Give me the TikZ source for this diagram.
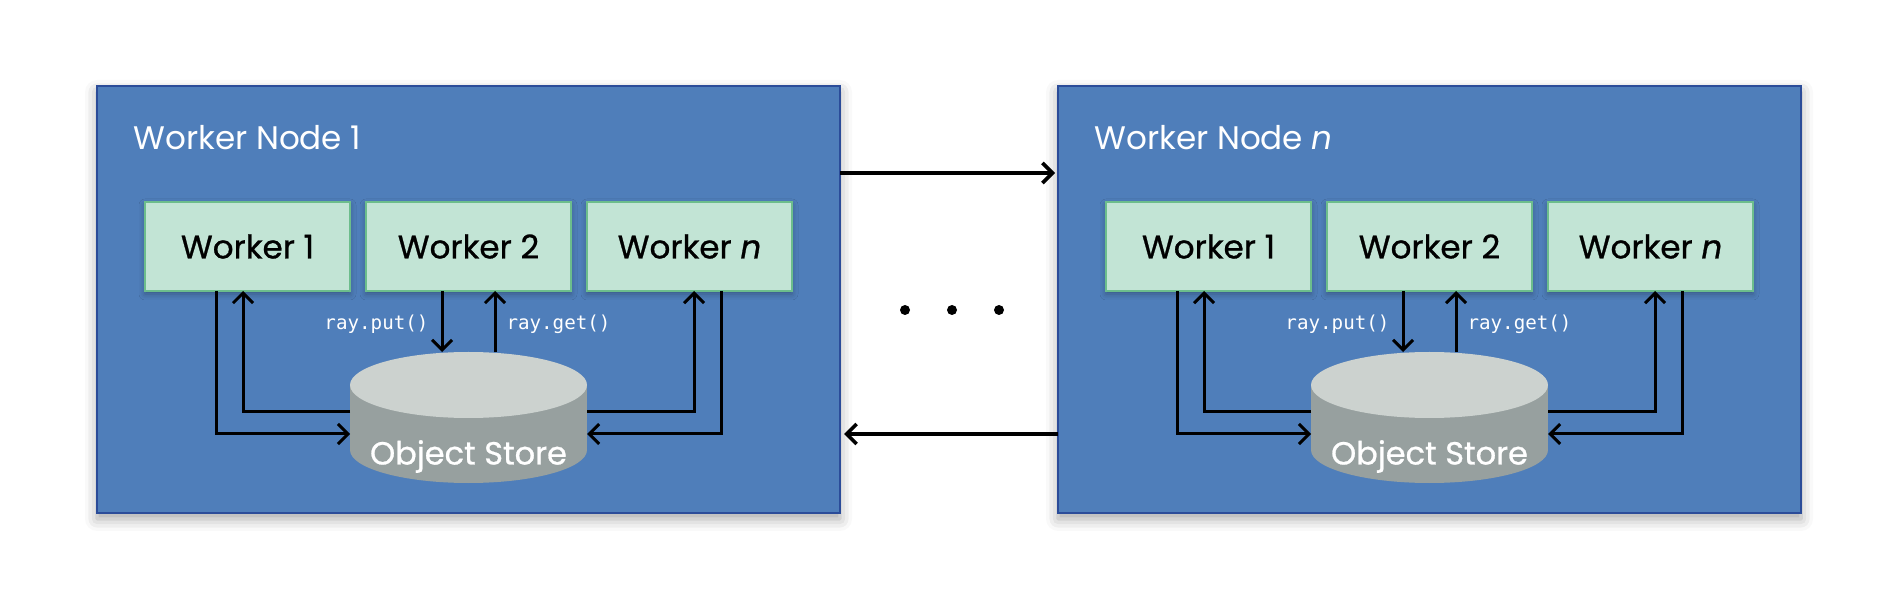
\documentclass[tikz,border=0pt]{standalone}
\usepackage{fontspec}
\setmainfont{Poppins}
\setmonofont{DejaVu Sans Mono}
\newfontfamily\poppinsmedium{Poppins}[FakeBold=0.8]
\usepackage{xcolor}
\usepackage{tikz}
\usetikzlibrary{positioning,arrows.meta,calc,shadows.blur}
\definecolor{RAYblue}{HTML}{4F7EBA}
\definecolor{RAYblueDark}{HTML}{2B4C99}
\definecolor{RAYmint}{HTML}{C2E4D5}
\definecolor{RAYmintLine}{HTML}{6CBD8C}
\definecolor{RAYstoreTop}{HTML}{CCD2CF}
\definecolor{RAYstoreSide}{HTML}{97A09F}
\tikzset{
  nodebox/.style={draw=RAYblueDark, fill=RAYblue, line width=1pt, minimum width=371.5pt, minimum height=213.5pt, outer sep=0pt, blur shadow={shadow xshift=0pt, shadow yshift=-3pt, shadow blur radius=6pt, shadow opacity=35}},
  titletext/.style={font=\fontsize{16.3}{19}\selectfont, text=white, inner sep=0pt},
  workerbox/.style={draw=RAYmintLine, fill=RAYmint, line width=1pt, minimum width=102.5pt, minimum height=44.5pt, inner sep=0pt, outer sep=0pt, font=\poppinsmedium\fontsize{16.3}{20}\selectfont, text=black, blur shadow={shadow xshift=0pt, shadow yshift=-1.5pt, shadow blur radius=3pt, shadow opacity=30}},
  storebox/.style={inner sep=0pt, outer sep=0pt, minimum width=118.5pt, text height=56.25pt, text depth=9.25pt, text=white, font=\poppinsmedium\fontsize{16}{20}\selectfont,
    path picture={
      \fill[RAYstoreSide] ([yshift=-16.5pt]path picture bounding box.north west) rectangle ([yshift=16.5pt]path picture bounding box.south east);
      \fill[RAYstoreSide] ([yshift=16.5pt]path picture bounding box.south) ellipse [x radius=59.25pt, y radius=16.5pt];
      \fill[RAYstoreTop] ([yshift=-16.5pt]path picture bounding box.north) ellipse [x radius=59.25pt, y radius=16.5pt];
    }},
  calltext/.style={font=\ttfamily\fontsize{9.6}{11}\selectfont, text=white, inner sep=2pt},
  flowarr/.style={-{Straight Barb[length=5pt,width=10pt]}, line width=1.5pt, draw=black},
  ellipsisdot/.style={circle, fill=black, inner sep=0pt, minimum size=5pt}
}

\begin{document}
\begin{tikzpicture}[x=1pt, y=1pt]
\useasboundingbox (0,0) rectangle (950,300);
\foreach \i/\x/\lbl in {A/48.5/1, B/529/{\emph{n}}} {
  \node[nodebox, anchor=south west] (box\i) at (\x,43.5) {};
  \node[titletext, anchor=west] (title\i) at ([xshift=18pt,yshift=-26pt]box\i.north west) {Worker Node \lbl};
  \node[workerbox, anchor=north west] (w1\i) at ([xshift=24pt,yshift=-58pt]box\i.north west) {Worker 1};
  \node[workerbox, right=8pt of w1\i] (w2\i) {Worker 2};
  \node[workerbox, right=8pt of w2\i] (wn\i) {Worker \emph{n}};
  \node[storebox, anchor=north] (store\i) at ([yshift=-30.5pt]w2\i.south) {Object Store};
  % worker 1 <-> store
  \draw[flowarr] ([xshift=-15.75pt]w1\i.south) |- ([yshift=24.5pt]store\i.south west);
  \draw[flowarr] ([yshift=35.5pt]store\i.south west) -| ([xshift=-2.25pt]w1\i.south);
  % worker 2 <-> store
  \draw[flowarr] ([xshift=-13.25pt]w2\i.south) -- node[calltext, pos=0.55, left=4pt] (put\i) {ray.put()} ([xshift=-13.25pt]store\i.north);
  \draw[flowarr] ([xshift=13.25pt]store\i.north) -- node[calltext, pos=0.45, right=3pt] (get\i) {ray.get()} ([xshift=13.25pt]w2\i.south);
  % worker n <-> store
  \draw[flowarr] ([xshift=15.75pt]wn\i.south) |- ([yshift=24.5pt]store\i.south east);
  \draw[flowarr] ([yshift=35.5pt]store\i.south east) -| ([xshift=2.25pt]wn\i.south);
}
\draw[flowarr, line width=1.8pt] ([yshift=63.25pt]boxA.east) -- ([yshift=63.25pt,xshift=-1.5pt]boxB.west);
\draw[flowarr, line width=1.8pt] ([yshift=-67.25pt]boxB.west) -- ([yshift=-67.25pt,xshift=2pt]boxA.east);
\node[ellipsisdot] (dotA) at (452.5,145) {};
\node[ellipsisdot] (dotB) at (476,145) {};
\node[ellipsisdot] (dotC) at (499.5,145) {};
\end{tikzpicture}
\end{document}
